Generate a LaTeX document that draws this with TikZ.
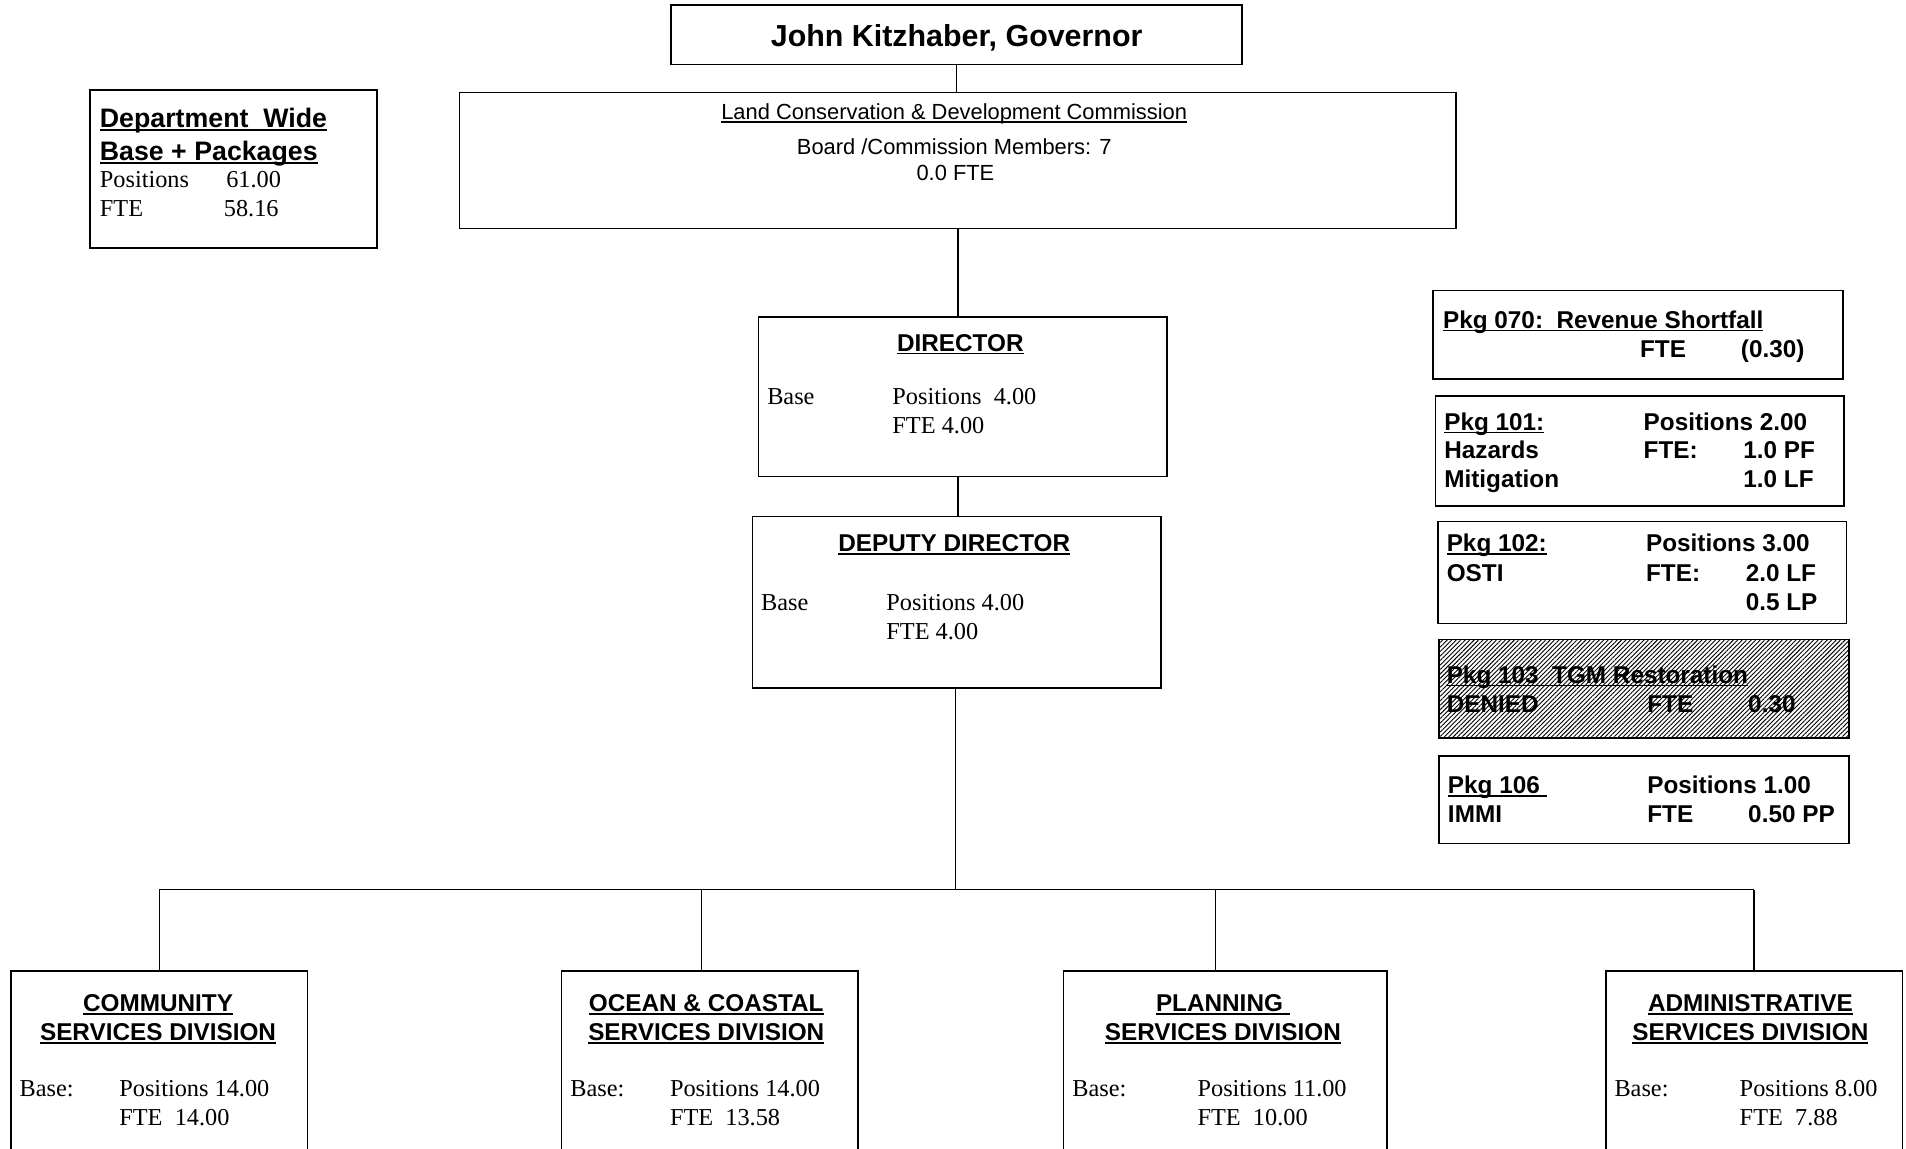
\documentclass[tikz,border=0pt]{standalone}
\usepackage{fontspec}
\setmainfont{Liberation Serif}
\setsansfont{Liberation Sans}
\usetikzlibrary{patterns.meta}
\newcommand\ulx[1]{\setbox0\hbox{#1}\rlap{\rule[-2.6pt]{\wd0}{1.3pt}}\box0}
\tikzset{
  box/.style={draw, line width=1.4pt, inner sep=0pt, outer sep=0pt, anchor=north west, fill=white},
  conn/.style={line width=1.1pt},
  sfb/.style={font=\sffamily\bfseries\fontsize{20}{24}\selectfont, anchor=base west, inner sep=0pt},
  sfbc/.style={sfb, anchor=base},
  sfr/.style={font=\sffamily\fontsize{18}{22}\selectfont, anchor=base, inner sep=0pt},
  rmt/.style={font=\rmfamily\fontsize{20}{24}\selectfont, anchor=base west, inner sep=0pt},
}
\begin{document}
\begin{tikzpicture}[x=1pt,y=-1pt]
\useasboundingbox (0,0) rectangle (1568,945);
\clip (0,0) rectangle (1568,945);

% Governor
\node[box, minimum width=470pt, minimum height=49pt] (gov) at (552,4) {};
\node[font=\sffamily\bfseries\fontsize{25}{30}\selectfont, anchor=base, inner sep=0pt] (govt) at (787,38) {John Kitzhaber, Governor};

% LCDC
\node[box, minimum width=820pt, minimum height=112pt] (lcdc) at (378,76) {};
\node[sfr] (lcdc1) at (785,98.5) {\ulx{Land Conservation \& Development Commission}};
\node[sfr] (lcdc2) at (785,127.5) {Board /Commission Members: 7};
\node[sfr] (lcdc3) at (786,148.5) {0.0 FTE};

% Department wide
\node[box, minimum width=236pt, minimum height=130pt] (dw) at (74,74) {};
\node[sfb, font=\sffamily\bfseries\fontsize{22}{26}\selectfont] (dw1) at (82,105) {\ulx{Department\ \ Wide}};
\node[sfb, font=\sffamily\bfseries\fontsize{22}{26}\selectfont] (dw2) at (82,132) {\ulx{Base + Packages}};
\node[rmt] (dw3) at (82,154) {Positions};
\node[rmt] (dw4) at (186,154) {61.00};
\node[rmt] (dw5) at (82,178) {FTE};
\node[rmt] (dw6) at (184,178) {58.16};

% Director
\node[box, minimum width=336pt, minimum height=131pt] (dir) at (624,261) {};
\node[sfbc] (dirt) at (790,289) {\ulx{DIRECTOR}};
\node[rmt] (dir1) at (631,333) {Base};
\node[rmt] (dir2) at (734,333) {Positions\ \ 4.00};
\node[rmt] (dir3) at (734,357) {FTE 4.00};

% Deputy
\node[box, minimum width=336pt, minimum height=141pt] (dep) at (619,425) {};
\node[sfbc] (dept) at (785,454) {\ulx{DEPUTY DIRECTOR}};
\node[rmt] (dep1) at (626,502) {Base};
\node[rmt] (dep2) at (729,502) {Positions 4.00};
\node[rmt] (dep3) at (729,526) {FTE 4.00};

% Packages
\node[box, minimum width=337pt, minimum height=73pt] (p070) at (1179,239) {};
\node[sfb] (p070a) at (1187,270) {\ulx{Pkg 070:\ \ Revenue Shortfall}};
\node[sfb] (p070b) at (1349,294) {FTE};
\node[sfb] (p070c) at (1432,294) {(0.30)};

\node[box, minimum width=336pt, minimum height=90pt] (p101) at (1181,326) {};
\node[sfb] (p101a) at (1188,354) {\ulx{Pkg 101:}};
\node[sfb] (p101b) at (1188,377) {Hazards};
\node[sfb] (p101c) at (1188,401) {Mitigation};
\node[sfb] (p101d) at (1352,354) {Positions 2.00};
\node[sfb] (p101e) at (1352,377) {FTE:};
\node[sfb] (p101f) at (1434,377) {1.0 PF};
\node[sfb] (p101g) at (1434,401) {1.0 LF};

\node[box, minimum width=336pt, minimum height=84pt] (p102) at (1183,429) {};
\node[sfb] (p102a) at (1190,454) {\ulx{Pkg 102:}};
\node[sfb] (p102b) at (1190,478) {OSTI};
\node[sfb] (p102d) at (1354,454) {Positions 3.00};
\node[sfb] (p102e) at (1354,478) {FTE:};
\node[sfb] (p102f) at (1436,478) {2.0 LF};
\node[sfb] (p102g) at (1436,502) {0.5 LP};

\node[box, minimum width=337pt, minimum height=81pt, pattern={Lines[angle=45,distance=2.6pt,line width=0.75pt]}] (p103) at (1184,526) {};
\node[sfb] (p103a) at (1190,562) {\ulx{Pkg 103\ \ TGM Restoration}};
\node[sfb] (p103b) at (1190,586) {DENIED};
\node[sfb] (p103c) at (1355,586) {FTE};
\node[sfb] (p103d) at (1438,586) {0.30};

\node[box, minimum width=337pt, minimum height=72pt] (p106) at (1184,622) {};
\node[sfb] (p106a) at (1191,653) {\ulx{Pkg 106\ }};
\node[sfb] (p106b) at (1191,677) {IMMI};
\node[sfb] (p106d) at (1355,653) {Positions 1.00};
\node[sfb] (p106e) at (1355,677) {FTE};
\node[sfb] (p106f) at (1438,677) {0.50 PP};

% Divisions
\node[box, minimum width=244pt, minimum height=200pt] (com) at (9,799) {};
\node[sfbc] (com1) at (130,832) {\ulx{COMMUNITY}};
\node[sfbc] (com2) at (130,856) {\ulx{SERVICES DIVISION}};
\node[rmt] (com3) at (16,902) {Base:};
\node[rmt] (com4) at (98,902) {Positions 14.00};
\node[rmt] (com5) at (98,926) {FTE\ \ 14.00};

\node[box, minimum width=244pt, minimum height=200pt] (oce) at (462,799) {};
\node[sfbc] (oce1) at (581,832) {\ulx{OCEAN \& COASTAL}};
\node[sfbc] (oce2) at (581,856) {\ulx{SERVICES DIVISION}};
\node[rmt] (oce3) at (469,902) {Base:};
\node[rmt] (oce4) at (551,902) {Positions 14.00};
\node[rmt] (oce5) at (551,926) {FTE\ \ 13.58};

\node[box, minimum width=266pt, minimum height=200pt] (pla) at (875,799) {};
\node[sfbc] (pla1) at (1006,832) {\ulx{PLANNING\ }};
\node[sfbc] (pla2) at (1006,856) {\ulx{SERVICES DIVISION}};
\node[rmt] (pla3) at (882,902) {Base:};
\node[rmt] (pla4) at (985,902) {Positions 11.00};
\node[rmt] (pla5) at (985,926) {FTE\ \ 10.00};

\node[box, minimum width=244pt, minimum height=200pt] (adm) at (1321,799) {};
\node[sfbc] (adm1) at (1440,832) {\ulx{ADMINISTRATIVE}};
\node[sfbc] (adm2) at (1440,856) {\ulx{SERVICES DIVISION}};
\node[rmt] (adm3) at (1328,902) {Base:};
\node[rmt] (adm4) at (1431,902) {Positions 8.00};
\node[rmt] (adm5) at (1431,926) {FTE\ \ 7.88};

% Connectors
\coordinate (bus1) at (131,732);
\coordinate (bus2) at (577,732);
\coordinate (bus3) at (1000,732);
\coordinate (bus4) at (1443,732);
\coordinate (busc) at (786,732);
\draw[conn] (gov.south) -- (gov.south |- lcdc.north);
\draw[conn] (lcdc.south) -- (lcdc.south |- dir.north);
\draw[conn] (dep.north) ++(1,0) coordinate (dtop) -- (dtop |- dir.south);
\draw[conn] (dep.south) ++(-1,0) coordinate (dbot) -- (dbot |- busc);
\draw[conn] (bus1) -- (bus4);
\draw[conn] (bus1) -- (bus1 |- com.north);
\draw[conn] (bus2) -- (bus2 |- oce.north);
\draw[conn] (bus3) -- (bus3 |- pla.north);
\draw[conn] (bus4) -- (bus4 |- adm.north);
\end{tikzpicture}
\end{document}
